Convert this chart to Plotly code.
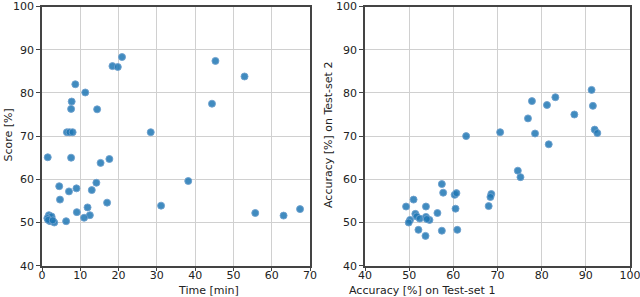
import plotly.graph_objects as go

# Left panel: time vs score
time_min = [6.5, 7.2, 8.0, 7.75, 7.6, 8.7, 11.3, 14.4, 18.4, 19.8, 20.9, 28.4, 44.4, 45.3, 52.9,
            1.5, 7.6, 15.3, 17.6, 38.2, 4.5, 7.05, 9.0, 14.2, 13.0, 4.7, 17.0, 31.1, 9.1, 11.9,
            12.5, 11.0, 6.3, 55.7, 63.1, 67.4, 1.8, 2.5, 1.4, 2.1, 3.2, 1.6, 2.8]
score = [70.9, 70.9, 70.9, 78.0, 76.3, 82.0, 80.1, 76.2, 86.2, 86.0, 88.3, 70.9, 77.5, 87.4, 83.8,
         65.1, 65.0, 63.8, 64.7, 59.6, 58.4, 57.2, 57.9, 59.2, 57.5, 55.3, 54.6, 53.9, 52.4, 53.5,
         51.7, 51.1, 50.3, 52.2, 51.6, 53.1, 51.7, 51.4, 51.0, 50.3, 50.0, 50.6, 50.5]

# Right panel: accuracy test-set 1 vs test-set 2
acc1 = [62.9, 70.6, 76.9, 77.8, 78.5, 81.2, 81.6, 83.1, 87.4, 91.3, 91.6, 92.0, 92.6,
        74.6, 75.2, 57.4, 57.7, 60.3, 60.7, 68.6, 68.4, 68.0, 60.5, 56.4, 53.8, 51.0, 49.3,
        51.4, 50.2, 49.9, 51.7, 52.4, 53.8, 54.6, 54.0, 52.1, 53.7, 57.4, 60.9]
acc2 = [70.0, 70.9, 74.1, 78.1, 70.6, 77.2, 68.1, 79.0, 75.0, 80.7, 77.0, 71.5, 70.7,
        62.0, 60.5, 58.9, 56.9, 56.4, 56.8, 56.6, 55.9, 53.8, 53.2, 52.2, 53.7, 55.3, 53.7,
        52.0, 50.6, 50.0, 51.4, 50.9, 51.3, 50.6, 50.8, 48.3, 46.9, 48.1, 48.3]

time_ticks = [0, 10, 20, 30, 40, 50, 60, 70]
pct_ticks = [40, 50, 60, 70, 80, 90, 100]

FONT = "DejaVu Sans"
SPINE = "#444444"
GRID = "#d0d0d0"
marker = dict(size=7, color="rgba(31,119,180,0.85)",
              line=dict(color="rgba(110,160,205,0.9)", width=1))

fig = go.Figure()
fig.add_trace(go.Scatter(x=time_min, y=score, mode="markers", marker=marker,
                         xaxis="x", yaxis="y", showlegend=False, cliponaxis=False))
fig.add_trace(go.Scatter(x=acc1, y=acc2, mode="markers", marker=marker,
                         xaxis="x2", yaxis="y2", showlegend=False, cliponaxis=False))

ax_common = dict(showline=True, mirror=True, linecolor=SPINE, linewidth=1.5,
                 showgrid=True, gridcolor=GRID, gridwidth=1, zeroline=False,
                 ticks="outside", ticklen=4, tickcolor=SPINE, tickwidth=1,
                 tickmode="array", automargin=False, ticklabeloverflow="allow",
                 tickfont=dict(family=FONT, size=11, color="#222"))

fig.update_layout(
    width=640, height=297,
    margin=dict(l=0, r=0, t=0, b=0, autoexpand=False),
    paper_bgcolor="white", plot_bgcolor="white",
    xaxis=dict(domain=[42/640, 310/640], range=[0, 70], tickvals=time_ticks, anchor="y",
               ticklabelstandoff=-6, **ax_common),
    yaxis=dict(domain=[1-265.7/297, 1-6.5/297], range=[40, 100], tickvals=pct_ticks, anchor="x", **ax_common),
    xaxis2=dict(domain=[365/640, 630/640], range=[40, 100], tickvals=pct_ticks, anchor="y2",
                ticklabelstandoff=-6, **ax_common),
    yaxis2=dict(domain=[1-265.7/297, 1-6.5/297], range=[40, 100], tickvals=pct_ticks, anchor="x2", **ax_common),
    annotations=[
        dict(text="Time [min]", x=176/640, y=1-290.5/297, xref="paper", yref="paper",
             showarrow=False, font=dict(family=FONT, size=11, color="#222"), yanchor="middle"),
        dict(text="Score [%]", x=7.5/640, y=1-135/297, xref="paper", yref="paper", textangle=-90,
             showarrow=False, font=dict(family=FONT, size=11, color="#222"), xanchor="center"),
        dict(text="Accuracy [%] on Test-set 1", x=497/640, y=1-290.5/297, xref="paper", yref="paper",
             showarrow=False, font=dict(family=FONT, size=11, color="#222"), yanchor="middle"),
        dict(text="Accuracy [%] on Test-set 2", x=328/640, y=1-135/297, xref="paper", yref="paper",
             textangle=-90, showarrow=False, font=dict(family=FONT, size=11, color="#222"),
             xanchor="center"),
    ],
)

fig.write_html("out.html", config={"displayModeBar": False},
               post_script="document.body.style.margin='0px';document.body.style.overflow='hidden';")
